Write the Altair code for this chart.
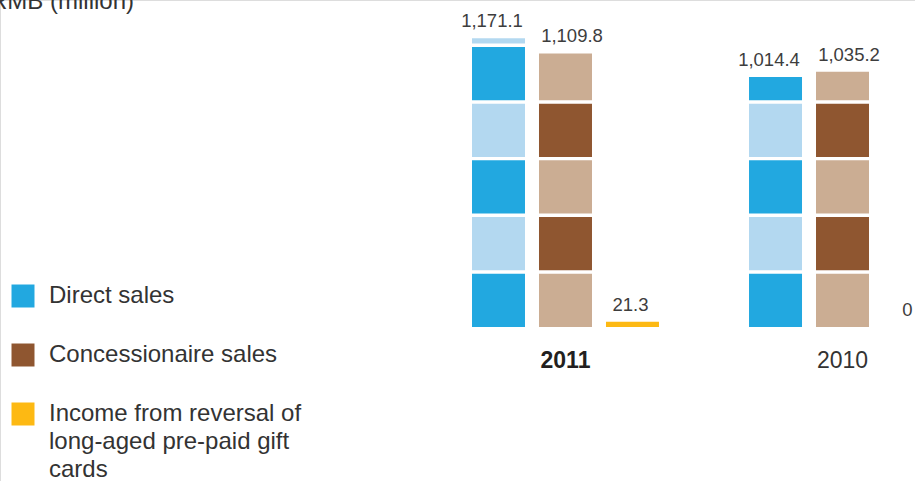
import altair as alt
import pandas as pd

# ---- data ----
years = ["2011", "2010"]
series = ["Direct sales", "Concessionaire sales",
          "Income from reversal of long-aged pre-paid gift cards"]
values_2011 = [1171.1, 1109.8, 21.3]
values_2010 = [1014.4, 1035.2, 0.0]
value_labels_2011 = ["1,171.1", "1,109.8", "21.3"]
value_labels_2010 = ["1,014.4", "1,035.2", "0"]

dark_colors = ["#22A8E0", "#8F5630", "#FDB913"]
light_colors = ["#B3D8F0", "#CBAD93", "#FDB913"]
start_dark = [True, False, True]

SEG_STEP = 230   # value units per block
SEG_GAP = 14     # white gap between blocks (value units)

FONT = "Liberation Sans"

# ---- tables ----
rows = []
seg_rows = []
for yr, vals, labs in [("2011", values_2011, value_labels_2011),
                       ("2010", values_2010, value_labels_2010)]:
    for i, (s, v, lab) in enumerate(zip(series, vals, labs)):
        rows.append({"year": yr, "series": s, "value": v, "label": lab, "idx": i})
        k = 0
        start = 0.0
        while start < v:
            end = min(start + SEG_STEP - SEG_GAP, v)
            dark = (k % 2 == 0) == start_dark[i]
            seg_rows.append({"year": yr, "series": s, "y0": start, "y1": end,
                             "fillcolor": dark_colors[i] if dark else light_colors[i]})
            start += SEG_STEP
            k += 1

totals = pd.DataFrame(rows)
segs = pd.DataFrame(seg_rows)
year_df = pd.DataFrame({"year": years, "pos": [-166.3, -166.3]})

xscale = alt.Scale(domain=years, range=[472, 936], paddingInner=0.325, paddingOuter=0)
xoff = alt.XOffset("series:N", scale=alt.Scale(domain=series, paddingInner=14 / 67, paddingOuter=0))
yscale = alt.Scale(domain=[0, 1200], range=[327, 31.2], nice=False, zero=False)

X = alt.X("year:N", scale=xscale, axis=None)

bars = alt.Chart(segs).mark_bar(cornerRadius=0, strokeWidth=0).encode(
    x=X, xOffset=xoff,
    y=alt.Y("y0:Q", scale=yscale, axis=None),
    y2="y1:Q",
    fill=alt.Fill("fillcolor:N", scale=None),
)

label_layers = []
for i, dx in enumerate([-6.5, 6.5, -2]):
    label_layers.append(
        alt.Chart(totals).transform_filter(alt.datum.idx == i).mark_text(
            font=FONT, fontSize=18.5, color="#3d3d3d", dy=-11, dx=dx,
            baseline="alphabetic", align="center"
        ).encode(x=X, xOffset=xoff, y=alt.Y("value:Q", scale=yscale, axis=None), text="label:N")
    )

year_bold = alt.Chart(year_df).transform_filter(alt.datum.year == "2011").mark_text(
    font=FONT, fontSize=23, fontWeight="bold", color="#231f20", baseline="alphabetic"
).encode(x=X, y=alt.Y("pos:Q", scale=yscale, axis=None), text="year:N")

year_norm = alt.Chart(year_df).transform_filter(alt.datum.year == "2010").mark_text(
    font=FONT, fontSize=23, color="#333333", baseline="alphabetic"
).encode(x=X, y=alt.Y("pos:Q", scale=yscale, axis=None), text="year:N")

legend_expr = ("datum.label == 'Income from reversal of long-aged pre-paid gift cards' ? "
               "['Income from reversal of', 'long-aged pre-paid gift', 'cards'] : datum.label")

legend_layer = alt.Chart(totals).mark_square(size=0).encode(
    x=X, xOffset=xoff, y=alt.Y("value:Q", scale=yscale, axis=None),
    color=alt.Color("series:N", scale=alt.Scale(domain=series, range=dark_colors),
                    legend=alt.Legend(title=None, orient="none", legendX=11, legendY=284,
                                      symbolType="square", symbolSize=529, symbolOpacity=1,
                                      symbolStrokeWidth=0,
                                      labelFont=FONT, labelFontSize=24, labelColor="#333333",
                                      labelOffset=14, labelLimit=500, rowPadding=35,
                                      padding=0, labelExpr=legend_expr)),
)

title_txt = alt.Chart(pd.DataFrame({"t": ["RMB (million)"]})).mark_text(
    font=FONT, fontSize=24, color="#333333", align="left", baseline="alphabetic"
).encode(x=alt.value(-10), y=alt.value(9), text="t:N")

chart = alt.layer(bars, *label_layers, year_bold, year_norm, legend_layer, title_txt).properties(
    width=915, height=481, padding=0, autosize=alt.AutoSizeParams(type="none")
).configure_view(stroke=None).configure(
    background="white", style={"guide-label": {"lineHeight": 28}}
)

chart.save("out.html", embed_options={"renderer": "svg", "actions": False})
